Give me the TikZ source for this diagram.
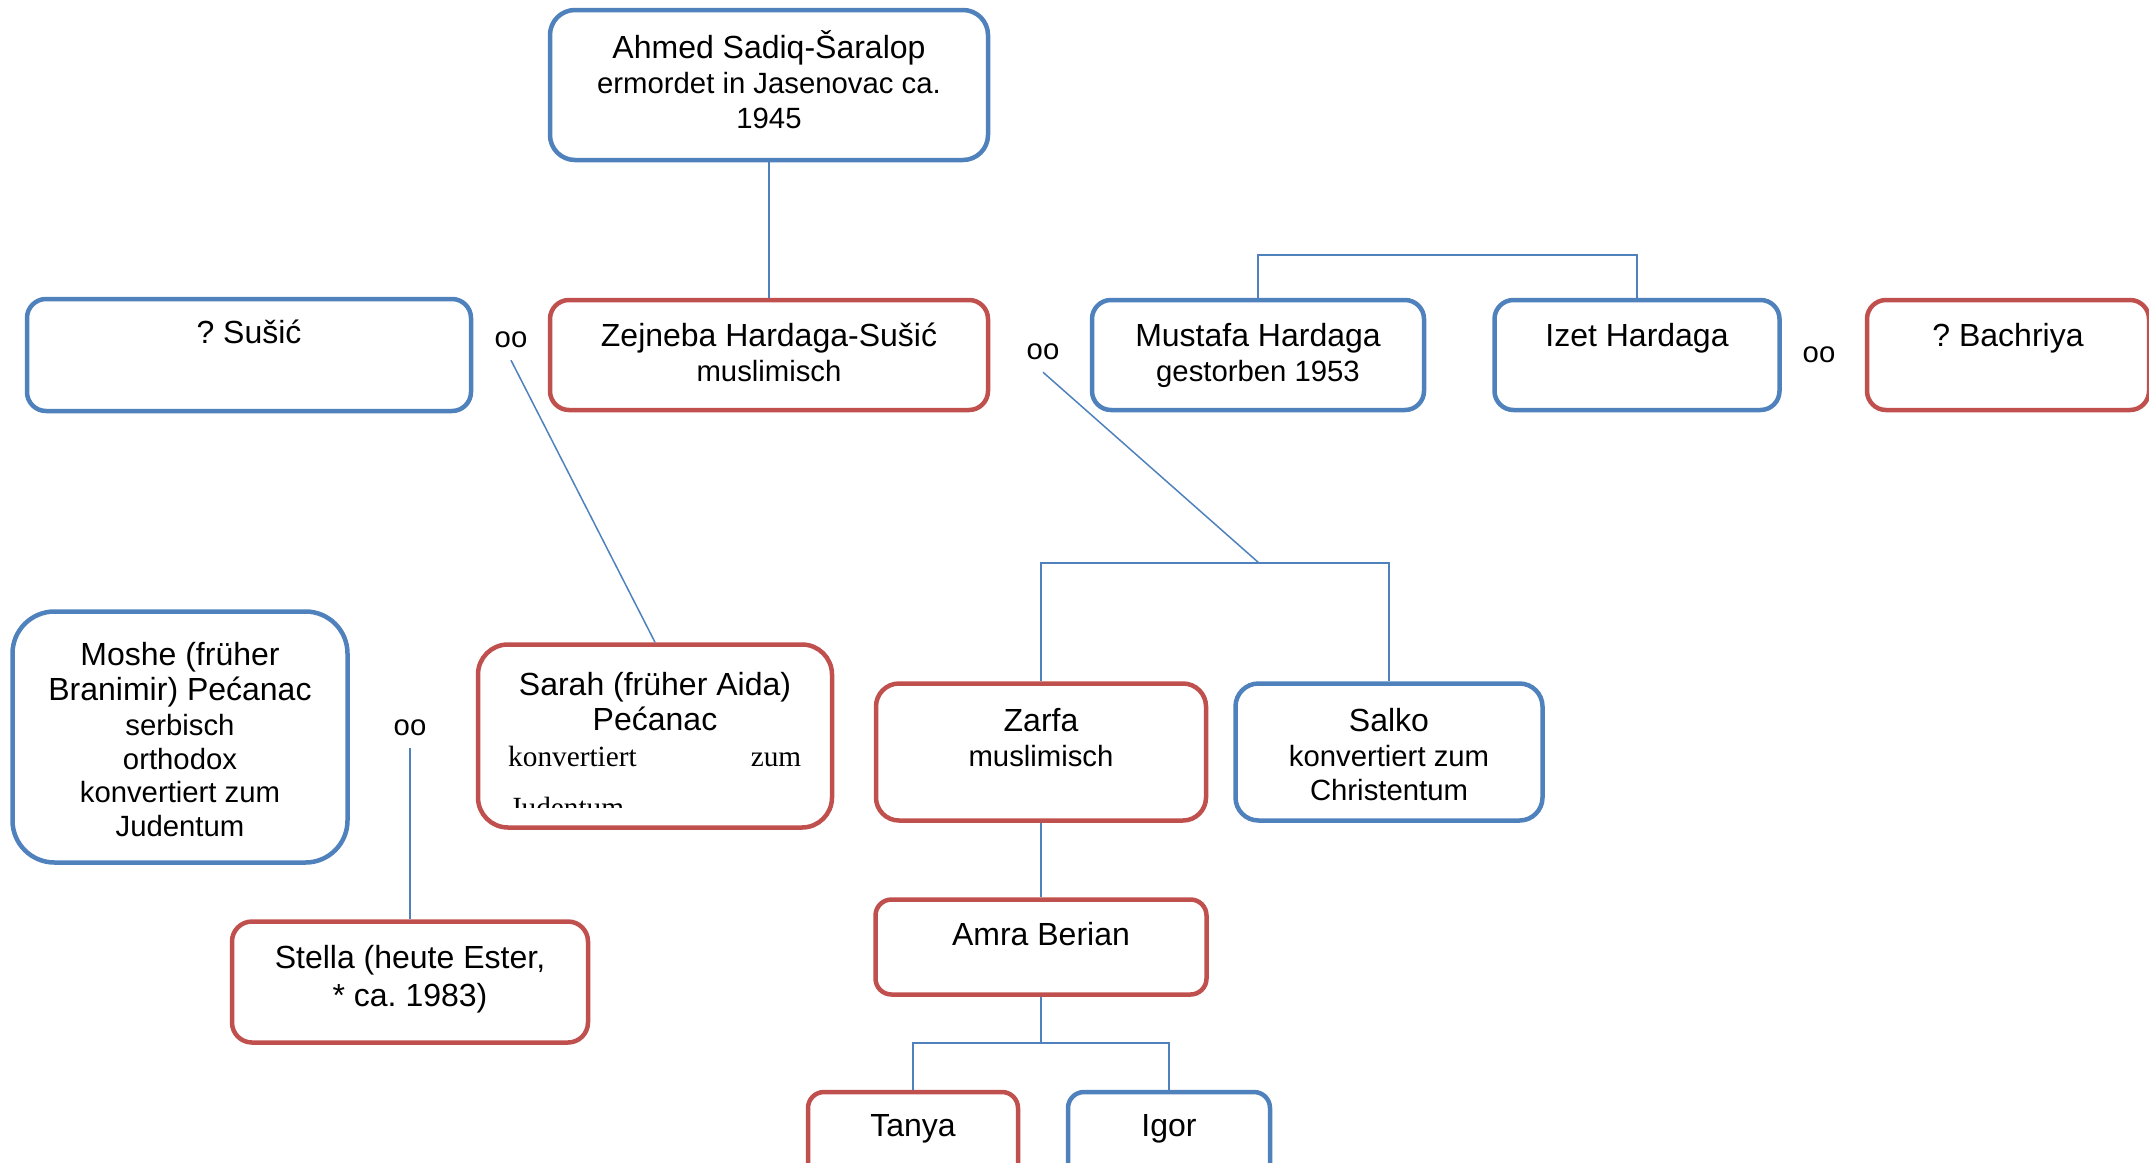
\documentclass[tikz,border=0pt]{standalone}
\usepackage{fontspec}
\setmainfont{Liberation Sans}
\newfontfamily\seriffont{Liberation Serif}
\usepackage{tikz}
\usetikzlibrary{calc}
\definecolor{male}{RGB}{79, 129, 189}
\definecolor{female}{RGB}{192, 80, 77}
\newcommand{\namefont}{\fontsize{32}{35}\selectfont}
\newcommand{\notefont}{\fontsize{29.3}{33}\selectfont}
\frenchspacing

\begin{document}
\begin{tikzpicture}[x=1pt, y=-1pt,
    man/.style={draw=male, line width=4.5pt, rectangle, inner sep=0pt},
    woman/.style={draw=female, line width=4.5pt, rectangle, inner sep=0pt},
    txt/.style={align=center, inner sep=0pt, anchor=north, font=\namefont,
      execute at begin node={\rule{0pt}{30pt}}},
    oo/.style={inner xsep=0pt, inner ysep=12pt, font=\notefont},
    link/.style={draw=male, line width=1.5pt}]
  \useasboundingbox (0, 0) rectangle (2149, 1162);

  \node[man, minimum width=438pt, minimum height=150pt, rounded corners=25pt] (ahmed) at (769, 85) {};
  \node[txt] (ahmedtxt) at ([yshift=-23pt]ahmed.north) {Ahmed Sadiq-Šaralop\\{\notefont ermordet in Jasenovac ca.}\\{\notefont 1945}};

  \node[man, minimum width=444pt, minimum height=112pt, rounded corners=19pt] (susic) at (249, 355) {};
  \node[txt] (susictxt) at ([yshift=-17pt]susic.north) {? Sušić};
  \node[woman, minimum width=438pt, minimum height=110pt, rounded corners=19pt] (zejneba) at (769, 355) {};
  \node[txt] (zejnebatxt) at ([yshift=-25pt]zejneba.north) {Zejneba Hardaga-Sušić\\{\notefont muslimisch}};
  \node[man, minimum width=332pt, minimum height=110pt, rounded corners=19pt] (mustafa) at (1258, 355) {};
  \node[txt] (mustafatxt) at ([yshift=-25pt]mustafa.north) {Mustafa Hardaga\\{\notefont gestorben 1953}};
  \node[man, minimum width=285pt, minimum height=110pt, rounded corners=19pt] (izet) at (1637, 355) {};
  \node[txt] (izettxt) at ([yshift=-19pt]izet.north) {Izet Hardaga};
  \node[woman, minimum width=282pt, minimum height=110pt, rounded corners=19pt] (bachriya) at (2008, 355) {};
  \node[txt] (bachriyatxt) at ([yshift=-19pt]bachriya.north) {? Bachriya};

  \node[oo] (oo1) at (511, 340) {oo};
  \node[oo] (oo2) at (1043, 352) {oo};
  \node[oo] (oo3) at (1819, 355) {oo};
  \node[oo] (oo4) at (410, 728) {oo};

  \node[man, minimum width=335pt, minimum height=251pt, rounded corners=42pt] (moshe) at (180, 737) {};
  \node[txt] (moshetxt) at ([yshift=-33pt]moshe.north) {Moshe (früher\\Branimir) Pećanac\\{\notefont serbisch}\\[-1.5pt]{\notefont orthodox}\\[-1.5pt]{\notefont konvertiert zum}\\[-1.5pt]{\notefont Judentum}};
  \node[woman, minimum width=354pt, minimum height=183pt, rounded corners=30pt] (sarah) at (655, 736) {};
  \node[txt] (sarahtxt) at ([yshift=-30pt]sarah.north) {Sarah (früher Aida)\\Pećanac};
  \node[anchor=base west, inner sep=0pt, font=\seriffont\notefont] (sarahnote) at (508, 766) {\makebox[293pt][l]{konvertiert\hfill zum}};
  \begin{scope}
    \clip (sarah.north west) rectangle (832, 807);
    \node[anchor=base west, inner sep=0pt, font=\seriffont\notefont] (sarahrest) at (510, 817) {Judentum};
  \end{scope}

  \node[woman, minimum width=330pt, minimum height=137pt, rounded corners=23pt] (zarfa) at (1041, 752) {};
  \node[txt] (zarfatxt) at ([yshift=-27pt]zarfa.north) {Zarfa\\{\notefont muslimisch}};
  \node[man, minimum width=307pt, minimum height=137pt, rounded corners=23pt] (salko) at (1389, 752) {};
  \node[txt] (salkotxt) at ([yshift=-27pt]salko.north) {Salko\\{\notefont konvertiert zum}\\[-1pt]{\notefont Christentum}};

  \node[woman, minimum width=356pt, minimum height=121pt, rounded corners=20pt] (stella) at (410, 982) {};
  \node[txt] (stellatxt) at ([yshift=-26pt]stella.north) {Stella (heute Ester,\\[3pt]* ca. 1983)};
  \node[woman, minimum width=331pt, minimum height=95pt, rounded corners=16pt] (amra) at (1041, 947) {};
  \node[txt] (amratxt) at ([yshift=-18pt]amra.north) {Amra Berian};

  \node[woman, minimum width=210pt, minimum height=96pt, rounded corners=16pt] (tanya) at (913, 1140) {};
  \node[txt] (tanyatxt) at ([yshift=-17pt]tanya.north) {Tanya};
  \node[man, minimum width=202pt, minimum height=96pt, rounded corners=16pt] (igor) at (1169, 1140) {};
  \node[txt] (igortxt) at ([yshift=-17pt]igor.north) {Igor};

  \coordinate (sibs) at (1447, 255);
  \coordinate (kids1) at (1259, 563);
  \coordinate (kids2) at (1041, 1043);

  \draw[link] (ahmed.south) -- (zejneba.north);
  \draw[link] (mustafa.north) |- (sibs) -| (izet.north);
  \draw[link] (oo1.south) -- (sarah.north);
  \draw[link] (oo2.south) -- (kids1);
  \draw[link] (zarfa.north) |- (kids1) -| (salko.north);
  \draw[link] (oo4.south) -- (stella.north);
  \draw[link] (zarfa.south) -- (amra.north);
  \draw[link] (amra.south) -- (kids2);
  \draw[link] (tanya.north) |- (kids2) -| (igor.north);
\end{tikzpicture}
\end{document}
